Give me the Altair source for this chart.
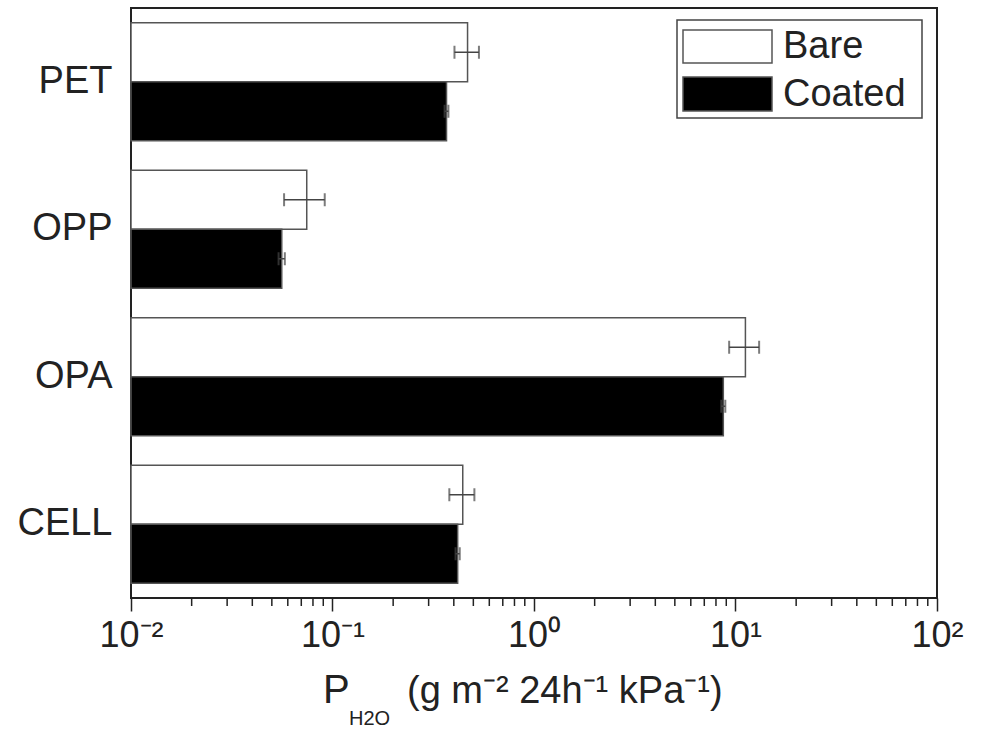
import altair as alt
import pandas as pd

# ---- data ----
materials = ["PET", "OPP", "OPA", "CELL"]
series = ["Bare", "Coated"]
bare_values = [0.468, 0.0745, 11.2, 0.443]
bare_errors = [0.065, 0.017, 1.9, 0.063]
coated_values = [0.368, 0.056, 8.7, 0.418]
coated_errors = [0.008, 0.002, 0.2, 0.010]
tick_values = [0.01, 0.1, 1, 10, 100]
tick_labels = ["10⁻²", "10⁻¹", "10⁰", "10¹", "10²"]
minor_ticks = [m * d for d in [0.01, 0.1, 1, 10] for m in range(2, 10)]
title_main = "P"
title_sub = "H2O"
title_rest = "(g m⁻² 24h⁻¹ kPa⁻¹)"

rows = []
for i, m in enumerate(materials):
    rows.append({"material": m, "series": "Bare", "value": bare_values[i],
                 "lo": bare_values[i] - bare_errors[i], "hi": bare_values[i] + bare_errors[i]})
    rows.append({"material": m, "series": "Coated", "value": coated_values[i],
                 "lo": coated_values[i] - coated_errors[i], "hi": coated_values[i] + coated_errors[i]})
df = pd.DataFrame(rows)

FONT = "Liberation Sans"
W, H = 806, 590

label_expr = " : ".join(
    f"datum.value == {v} ? '{l}'" for v, l in zip(tick_values, tick_labels)
) + " : ''"

xscale = alt.Scale(type="log", domain=[0.01, 100], nice=False)
yscale = alt.Scale(domain=materials, paddingInner=0.2, paddingOuter=0.1)
yoff = alt.YOffset("series:N", sort=series, scale=alt.Scale(domain=series, paddingInner=0, paddingOuter=0))

x_axis = alt.Axis(values=tick_values, labelExpr=label_expr, title=None, grid=False,
                  domain=False, tickSize=13, tickWidth=1.5, tickColor="#222",
                  labelFontSize=36, labelFont=FONT, labelColor="#222", labelPadding=7,
                  labelFlush=False, labelOverlap=False)
y_axis = alt.Axis(title=None, ticks=False, domain=False, labelFontSize=38, labelFont=FONT,
                  labelColor="#222", labelPadding=19, grid=False)

base = alt.Chart(df)

bars = base.mark_bar(stroke="#555", strokeWidth=1.5).encode(
    x=alt.X("value:Q", scale=xscale, axis=x_axis),
    x2=alt.datum(0.01),
    y=alt.Y("material:N", scale=yscale, axis=y_axis, sort=materials),
    yOffset=yoff,
    fill=alt.Fill("series:N", scale=alt.Scale(domain=series, range=["white", "black"]), legend=None),
)

err_rule = base.mark_rule(color="#444", strokeWidth=1.5).encode(
    x=alt.X("lo:Q", scale=xscale, axis=x_axis),
    x2="hi:Q",
    y=alt.Y("material:N", scale=yscale, sort=materials),
    yOffset=yoff,
)
err_lo = base.mark_tick(color="#444", thickness=2, size=13, orient="vertical").encode(
    x=alt.X("lo:Q", scale=xscale),
    y=alt.Y("material:N", scale=yscale, sort=materials),
    yOffset=yoff,
)
err_hi = base.mark_tick(color="#444", thickness=2, size=13, orient="vertical").encode(
    x=alt.X("hi:Q", scale=xscale),
    y=alt.Y("material:N", scale=yscale, sort=materials),
    yOffset=yoff,
)

minor = alt.Chart(pd.DataFrame({"t": minor_ticks})).mark_rule(color="#222", strokeWidth=1.5).encode(
    x=alt.X("t:Q", scale=xscale),
    y=alt.value(H),
    y2=alt.value(H + 8),
)

one = pd.DataFrame({"a": [0]})
legend_box = alt.Chart(one).mark_rect(fill="white", stroke="#444", strokeWidth=1.5).encode(
    x=alt.value(546), x2=alt.value(791), y=alt.value(12), y2=alt.value(110))
sw_bare = alt.Chart(one).mark_rect(fill="white", stroke="#555", strokeWidth=1.5).encode(
    x=alt.value(552), x2=alt.value(641), y=alt.value(22), y2=alt.value(55))
sw_coat = alt.Chart(one).mark_rect(fill="black", stroke="#555", strokeWidth=1.5).encode(
    x=alt.value(552), x2=alt.value(641), y=alt.value(69), y2=alt.value(103))
lg_bare = alt.Chart(one).mark_text(align="left", baseline="alphabetic", font=FONT, fontSize=38,
                                   color="#222", text=series[0]).encode(x=alt.value(652), y=alt.value(50))
lg_coat = alt.Chart(one).mark_text(align="left", baseline="alphabetic", font=FONT, fontSize=38,
                                   color="#222", text=series[1]).encode(x=alt.value(652), y=alt.value(98))

t_main = alt.Chart(one).mark_text(align="left", baseline="alphabetic", font=FONT, fontSize=40,
                                  color="#222", text=title_main).encode(x=alt.value(192), y=alt.value(695))
t_sub = alt.Chart(one).mark_text(align="left", baseline="alphabetic", font=FONT, fontSize=20,
                                 color="#222", text=title_sub).encode(x=alt.value(218), y=alt.value(717))
t_rest = alt.Chart(one).mark_text(align="left", baseline="alphabetic", font=FONT, fontSize=38,
                                  color="#222", text=title_rest).encode(x=alt.value(276), y=alt.value(695))

chart = alt.layer(
    bars, err_rule, err_lo, err_hi, minor,
    legend_box, sw_bare, sw_coat, lg_bare, lg_coat,
    t_main, t_sub, t_rest,
).properties(
    width=W, height=H,
    autosize=alt.AutoSizeParams(type="none"),
    padding={"left": 131, "top": 8, "right": 984 - 131 - W, "bottom": 734 - 8 - H},
    background="white",
).configure_view(stroke="#222", strokeWidth=2)

chart.save("out.html", embed_options={"renderer": "svg", "actions": False})
